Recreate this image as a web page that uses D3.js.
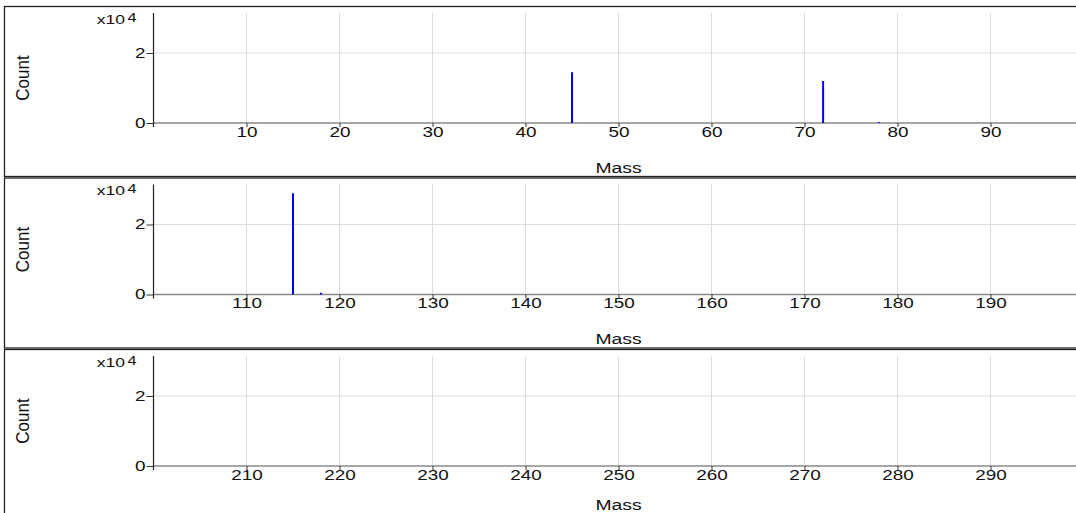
<!DOCTYPE html>
<html>
<head>
<meta charset="utf-8">
<script src="https://cdn.jsdelivr.net/npm/d3@7"></script>
<style>
  html, body { margin: 0; padding: 0; background: #fff; overflow: hidden; }
  svg { display: block; font-family: "Liberation Sans", Arial, sans-serif; }
</style>
</head>
<body>
<svg id="chart" width="1076" height="513"></svg>
<script>
// Mass ranges shown in the three stacked spectrum panels
const panelStarts = [0, 100, 200];
const panelEnds = [100, 200, 300];
const massTicks = [
  [10, 20, 30, 40, 50, 60, 70, 80, 90],
  [110, 120, 130, 140, 150, 160, 170, 180, 190],
  [210, 220, 230, 240, 250, 260, 270, 280, 290]
];
// Peaks (m/z) and their counts for each panel
const peakMass = [
  [45, 72, 78],
  [115, 118],
  []
];
const peakCount = [
  [14500, 12000, 250],
  [28900, 500],
  []
];
const countTicks = [0, 20000];
const countMax = 31430;

const svgW = 1076, svgH = 513;
const svg = d3.select("#chart");
const panelPitch = 171.5;
const panelTop0 = 6;
const boxLeft = 4.5, boxHeight = 170;
const plotLeft = 153.5, plotRight = 1083.5;
const yTopOff = 7, yZeroOff = 117;
const wide = 1.35; // horizontal stretch of the lettering

panelStarts.forEach((start, i) => {
  const top = panelTop0 + i * panelPitch;
  const g = svg.append("g").attr("transform", `translate(0,${top})`);
  // visible height of this panel (the last one runs off the bottom edge)
  const visH = Math.min(boxHeight, svgH - top);

  // frame
  g.append("rect")
    .attr("x", boxLeft).attr("y", 0.5)
    .attr("width", 1200).attr("height", boxHeight)
    .attr("fill", "none").attr("stroke", "#222").attr("stroke-width", 1.3);

  const x = d3.scaleLinear().domain([start, panelEnds[i]]).range([plotLeft, plotRight]);
  const y = d3.scaleLinear().domain([0, countMax]).range([yZeroOff, yTopOff]);

  // grid
  g.append("g").selectAll("line.vg").data(massTicks[i]).join("line")
    .attr("x1", d => x(d)).attr("x2", d => x(d))
    .attr("y1", yTopOff).attr("y2", yZeroOff)
    .attr("stroke", "#dcdcdc").attr("stroke-width", 1);
  g.append("g").selectAll("line.hg").data(countTicks.filter(d => d > 0)).join("line")
    .attr("x1", plotLeft).attr("x2", 1200)
    .attr("y1", d => y(d)).attr("y2", d => y(d))
    .attr("stroke", "#dcdcdc").attr("stroke-width", 1);

  // x axis
  const xa = g.append("g").attr("transform", `translate(0,${yZeroOff})`)
    .call(d3.axisBottom(x).tickValues(massTicks[i]).tickSize(4).tickSizeOuter(0).tickPadding(0));
  xa.select(".domain").attr("stroke", "#8a8a8a").attr("stroke-width", 1.6)
    .attr("d", `M${plotLeft},0H1200`);
  xa.selectAll(".tick line").attr("stroke", "#333");
  xa.selectAll(".tick text")
    .attr("fill", "#111").attr("font-size", 14)
    .attr("font-family", "Liberation Sans, Arial, sans-serif")
    .attr("transform", `scale(${wide},1)`);

  // y axis
  const ya = g.append("g").attr("transform", `translate(${plotLeft},0)`)
    .call(d3.axisLeft(y).tickValues(countTicks).tickSize(7).tickSizeOuter(0)
      .tickFormat(d => d3.format("d")(d / 1e4)));
  ya.select(".domain").attr("stroke", "#222").attr("stroke-width", 1.2)
    .attr("d", `M0,${yTopOff}V${yZeroOff + 4}`);
  ya.selectAll(".tick line").attr("stroke", "#333");
  ya.selectAll(".tick text")
    .attr("fill", "#111").attr("font-size", 14)
    .attr("font-family", "Liberation Sans, Arial, sans-serif")
    .attr("x", -8 / wide)
    .attr("transform", `scale(${wide},1)`);

  // exponent label
  g.append("text").text("x10")
    .attr("text-anchor", "end").attr("font-size", 12.5).attr("fill", "#111")
    .attr("transform", `translate(125,17.5) scale(1.4,1)`);
  g.append("text").text("4")
    .attr("text-anchor", "start").attr("font-size", 12.5).attr("fill", "#111")
    .attr("transform", `translate(127.5,15.5) scale(1.3,1)`);

  // axis titles
  g.append("text").text("Count")
    .attr("text-anchor", "middle").attr("dy", "0.35em")
    .attr("font-size", 17).attr("fill", "#111")
    .attr("transform", `translate(22.5,72) scale(1.1,1) rotate(-90)`);
  g.append("text").text("Mass")
    .attr("text-anchor", "middle").attr("font-size", 14).attr("fill", "#111")
    .attr("transform", `translate(${(plotLeft + plotRight) / 2},${visH - 3.5}) scale(1.38,1)`);

  // peaks
  const peaks = peakMass[i].map((m, k) => ({ m, c: peakCount[i][k] }));
  g.append("g").selectAll("line.pk").data(peaks).join("line")
    .attr("x1", d => x(d.m)).attr("x2", d => x(d.m))
    .attr("y1", y(0)).attr("y2", d => y(d.c))
    .attr("stroke", "#0000ff").attr("stroke-width", 2);
});
</script>
</body>
</html>
